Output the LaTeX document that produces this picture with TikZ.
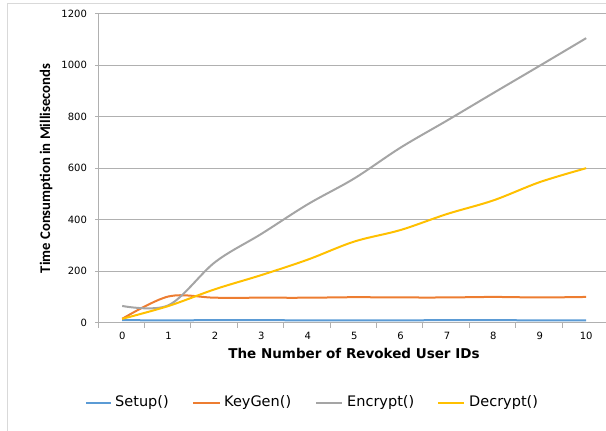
\documentclass[tikz,border=0pt]{standalone}
\usepackage{xcolor}
\usepackage{fontspec}
\usepackage{tikz}
\setmainfont{DejaVu Sans}
\newfontfamily\titlefont{Carlito}

\definecolor{setupblue}{HTML}{5B9BD5}
\definecolor{keygenorange}{HTML}{ED7D31}
\definecolor{encryptgray}{HTML}{A5A5A5}
\definecolor{decryptgold}{HTML}{FFC000}
\definecolor{gridgray}{HTML}{B0B0B0}
\definecolor{framegray}{HTML}{D9D9D9}

\tikzset{
  gridline/.style={gridgray, line width=1pt},
  ticklabel/.style={inner sep=0pt, font=\fontsize{10}{12}\selectfont},
  legendtext/.style={anchor=west, inner sep=0pt, font=\fontsize{14.5}{16}\selectfont},
  series/.style={line width=2pt, smooth, tension=0.55}
}

\begin{document}
\begin{tikzpicture}[x=1pt, y=1pt]
                  \useasboundingbox (0,0) rectangle (606,431);
                  % Chart frame
                  \begin{scope}
                  \clip (0,0) rectangle (606,431);
                  \draw [framegray, line width=1pt] (7,-10) rectangle (620,427);
                  \end{scope}

                  % Plot area (categories 0..10, values 0..1200)
                  \begin{scope}[shift={(122.2,108.3)}, x=46.4pt, y=0.2575pt]
                  % Gridlines and value labels
                  \foreach \v in {200,400,...,1200} {
                      \draw [gridline] (-0.52,\v) -- (10.6,\v);
                  }
                  \foreach \v in {0,200,...,1200} {
                      \draw [gridgray, line width=0.8pt] (-0.52,\v) ++(-3pt,0) -- (-0.52,\v);
                      \node [ticklabel, anchor=east] (ylab\v) at ([xshift=-11pt]-0.52,\v) {\v};
                  }
                  % Axes
                  \draw [gridgray, line width=1pt] (-0.52,1200) -- (-0.52,0) -- (10.6,0);
                  \foreach \i in {0,...,10} {
                      \draw [gridgray, line width=0.8pt] (\i-0.52,0) -- ++(0,-5pt);
                      \node [ticklabel] (xlab\i) at ([yshift=-13pt]\i,0) {\i};
                  }

                  % Series
                  \draw [series, setupblue] plot coordinates {(0,10) (1,9) (2,10) (3,10) (4,9) (5,9) (6,9) (7,10) (8,10) (9,9) (10,9)};
                  \draw [series, keygenorange] plot coordinates {(0,15) (1,102) (2,97) (3,97) (4,97) (5,99) (6,98) (7,98) (8,100) (9,98) (10,100)};
                  \draw [series, encryptgray] plot coordinates {(0,65) (1,68) (2,235) (3,345) (4,460) (5,560) (6,680) (7,785) (8,892) (9,998) (10,1105)};
                  \draw [series, decryptgold] plot coordinates {(0,15) (1,65) (2,130) (3,185) (4,245) (5,315) (6,360) (7,422) (8,475) (9,546) (10,600)};
                  \end{scope}

                  % Axis titles
                  \node [font=\bfseries\fontsize{13.5}{15}\selectfont] (xtitle) at (354,78) {The Number of Revoked User IDs};
                  \node [rotate=90, font=\titlefont\bfseries\fontsize{14.7}{16}\selectfont] (ytitle) at (46,262.5) {Time Consumption in Milliseconds};

                  % Legend
                  \coordinate (setupa) at (86,28);
                  \coordinate (setupb) at (111,28);
                  \draw [setupblue, line width=2pt] (setupa) -- (setupb);
                  \node [legendtext] (setup) at (115,28) {Setup()};
                  \coordinate (keygena) at (193,28);
                  \coordinate (keygenb) at (220,28);
                  \draw [keygenorange, line width=2pt] (keygena) -- (keygenb);
                  \node [legendtext] (keygen) at (224,28) {KeyGen()};
                  \coordinate (encrypta) at (316,28);
                  \coordinate (encryptb) at (342,28);
                  \draw [encryptgray, line width=2pt] (encrypta) -- (encryptb);
                  \node [legendtext] (encrypt) at (347,28) {Encrypt()};
                  \coordinate (decrypta) at (438,28);
                  \coordinate (decryptb) at (464,28);
                  \draw [decryptgold, line width=2pt] (decrypta) -- (decryptb);
                  \node [legendtext] (decrypt) at (469,28) {Decrypt()};
\end{tikzpicture}
\end{document}
